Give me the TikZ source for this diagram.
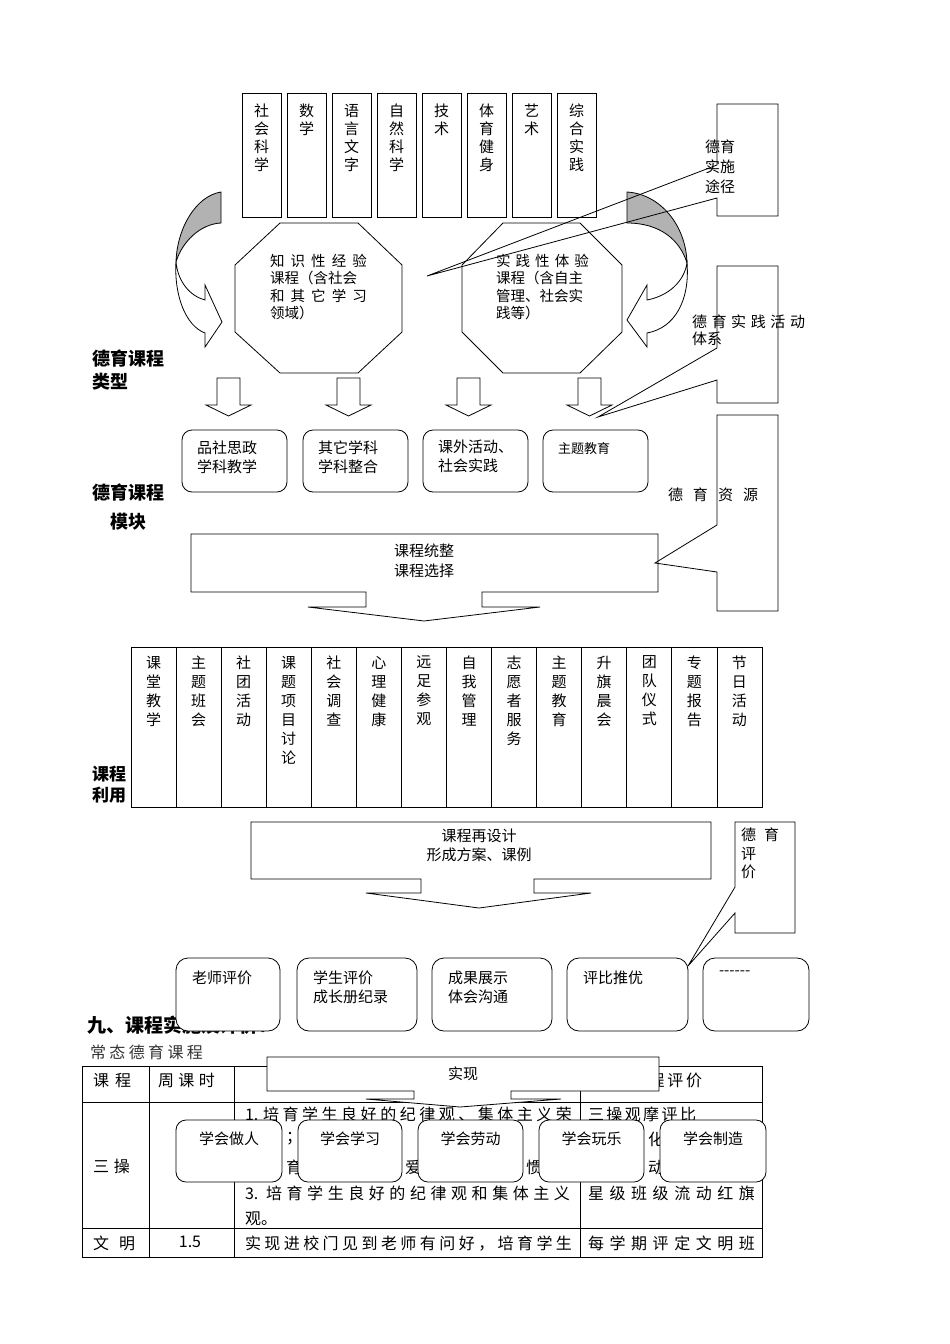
\documentclass[tikz,border=0pt]{standalone}
\usepackage{fontspec}
\setmainfont{Noto Sans CJK SC}
\usetikzlibrary{positioning}
\newcommand\fs[2]{\fontsize{#1}{#2}\selectfont}
\newcommand\spr[2]{\makebox[#1][s]{#2}}

\begin{document}
\begin{tikzpicture}[x=1pt, y=-1pt, line width=0.8pt,
    lbl/.style={inner sep=0pt, outer sep=0pt, anchor=north west, align=left, font=\fs{15}{19}},
    vlbl/.style={inner sep=0pt, outer sep=0pt, anchor=north, align=center, font=\fs{15}{18}},
    blbl/.style={lbl, font=\fs{18}{23}\bfseries},
    colbox/.style={draw, inner sep=0pt, outer sep=0pt, anchor=north west, minimum width=39pt, minimum height=124pt},
    ubox/.style={draw, inner sep=0pt, outer sep=0pt, anchor=north west, minimum width=45.07pt, minimum height=160pt},
    rbox/.style={draw, fill=white, rounded corners=10pt, inner sep=0pt, outer sep=0pt, minimum height=62pt},
    ebox/.style={rbox, rounded corners=12pt, minimum height=73pt},
    backface/.style={draw, fill=gray!60},
    blk/.style={draw, fill=white},
    tb/.style={lbl, font=\fs{16}{20}},
  ]
  \fill[white] (0,0) rectangle (950,1344);
  \useasboundingbox (0,0) rectangle (950,1344);

  % subject columns
  \foreach \lab [count=\i] in {{社\\会\\科\\学},{数\\学},{语\\言\\文\\字},{自\\然\\科\\学},{技\\术},{体\\育\\健\\身},{艺\\术},{综\\合\\实\\践}}{
    \node[colbox] (top\i) at ({242+45*(\i-1)},93) {};
    \node[vlbl] (topt\i) at ([yshift=-11pt]top\i.north) {\lab};
  }

  % curved arrows
  \draw[backface] (221,192) .. controls (196,196) and (177,228) .. (176,262) .. controls (182,242) and (200,224) .. (221,223) -- cycle;
  \draw[blk] (176,262) .. controls (174,296) and (186,326) .. (205,333) -- (205,347) -- (222,322) -- (205,285) -- (205,300) .. controls (190,296) and (178,282) .. (176,262) -- cycle;
  \draw[backface] (627,192) .. controls (660,194) and (686,225) .. (687,263) .. controls (680,240) and (660,223) .. (627,223) -- cycle;
  \draw[blk] (687,263) .. controls (690,300) and (675,328) .. (647,333) -- (647,347) -- (627,320) -- (647,285) -- (647,300) .. controls (668,296) and (684,282) .. (687,263) -- cycle;

  % course types
  \draw (280,223) -- (358,223) -- (402,265) -- (402,332) -- (358,373) -- (280,373) -- (235,332) -- (235,265) -- cycle;
  \draw (503,223) -- (580,223) -- (622,265) -- (622,332) -- (580,373) -- (503,373) -- (462,332) -- (462,265) -- cycle;
  \node[lbl, font=\fs{14.5}{17.5}] (know) at (270,254) {\spr{97pt}{知 识 性 经 验}\\课程（含社会\\\spr{97pt}{和 其 它 学 习}\\领域）};
  \node[lbl, font=\fs{14.5}{17.5}] (prac) at (496,254) {\spr{93pt}{实 践 性 体 验}\\课程（含自主\\管理、社会实\\践等）};

  % callouts on the right
  \draw (717,104) -- (778,104) -- (778,216) -- (717,216) -- (717,198) -- (427,276) -- (717,165) -- cycle;
  \node[lbl, font=\fs{15}{20}] (way) at (705,140) {德育\\实施\\途径};
  \draw (717,266) -- (778,266) -- (778,403) -- (717,403) -- (717,380) -- (598,417) -- (717,348) -- cycle;
  \node[lbl, font=\fs{15}{17}] (act) at (692,315) {\spr{113pt}{德 育 实 践 活 动}\\体系};

  \foreach \cx in {228.5,348.5,468.5,589.5}
    \draw (\cx-11.5,378) -- (\cx+11.5,378) -- (\cx+11.5,405) -- (\cx+22.5,405) -- (\cx,416) -- (\cx-22.5,405) -- (\cx-11.5,405) -- cycle;

  % modules
  \node[rbox, minimum width=105pt, anchor=north west] (m1) at (182,430) {};
  \node[rbox, minimum width=105pt, right=16pt of m1] (m2) {};
  \node[rbox, minimum width=105pt, right=15pt of m2] (m3) {};
  \node[rbox, minimum width=105pt, right=15pt of m3] (m4) {};
  \node[lbl] (m1t) at ([xshift=15pt,yshift=-11pt]m1.north west) {品社思政\\学科教学};
  \node[lbl] (m2t) at ([xshift=15pt,yshift=-11pt]m2.north west) {其它学科\\学科整合};
  \node[lbl] (m3t) at ([xshift=15pt,yshift=-10pt]m3.north west) {课外活动、\\社会实践};
  \node[lbl, font=\fs{13}{16}] (m4t) at ([xshift=15pt,yshift=-12pt]m4.north west) {主题教育};

  \node[blbl] (ktype) at (92,350) {德育课程\\类型};
  \node[blbl, align=center, font=\fs{18}{29}\bfseries] (kmod) at (92,484) {德育课程\\模块};

  \draw[blk] (191,534) -- (658,534) -- (658,592) -- (482,592) -- (482,607) -- (540,607) -- (424,621) -- (308,607) -- (366,607) -- (366,592) -- (191,592) -- cycle;
  \node[lbl, anchor=north, align=center, font=\fs{15}{20}] (sel) at (424,544) {课程统整\\课程选择};

  \draw (717,415) -- (778,415) -- (778,611) -- (717,611) -- (717,572) -- (655,563) -- (717,525) -- cycle;
  \node[lbl] (res) at (668,488) {\spr{90pt}{德 育 资 源}};

  % course use
  \foreach \lab [count=\i] in {{课\\堂\\教\\学},{主\\题\\班\\会},{社\\团\\活\\动},{课\\题\\项\\目\\讨\\论},{社\\会\\调\\查},{心\\理\\健\\康},{远\\足\\参\\观},{自\\我\\管\\理},{志\\愿\\者\\服\\务},{主\\题\\教\\育},{升\\旗\\晨\\会},{团\\队\\仪\\式},{专\\题\\报\\告},{节\\日\\活\\动}}{
    \node[ubox] (u\i) at ({131+45.07*(\i-1)},647) {};
    \node[vlbl, font=\fs{15}{19}] (ut\i) at ([yshift=-9pt]u\i.north) {\lab};
  }
  \node[blbl, font=\fs{17}{21}\bfseries] (use) at (92,766) {课程\\利用};

  \draw[blk] (251,822) -- (711,822) -- (711,879) -- (534,879) -- (534,893) -- (591,893) -- (479,908) -- (366,893) -- (421,893) -- (421,879) -- (251,879) -- cycle;
  \node[lbl, anchor=north, align=center] (redo) at (479,829) {课程再设计\\形成方案、课例};

  \draw (735,822) -- (795,822) -- (795,933) -- (735,933) -- (735,913) -- (688,966) -- (735,887) -- cycle;
  \node[lbl, font=\fs{15}{18.5}] (eva) at (741,828) {\spr{38pt}{德 育}\\评\\价};

  % section text and table
  \node[lbl, font=\fs{19}{23}\bfseries] (sec) at (87,1016) {九、课程实施及评价：};
  \node[lbl, font=\fs{16}{20}, text=black!80] (sub) at (90,1045) {\spr{113pt}{常 态 德 育 课 程}};
  \draw (82,1066) rectangle (762,1257);
  \foreach \x in {149,234,580} \draw (\x,1066) -- (\x,1257);
  \foreach \y in {1102,1228} \draw (82,\y) -- (762,\y);
  \node[tb] (h1) at (93,1073) {\spr{38pt}{课 程}};
  \node[tb] (h2) at (158,1073) {\spr{57pt}{周 课 时}};
  \node[tb] (h4) at (630,1073) {\spr{72pt}{课 程 评 价}};
  \node[tb] (r1) at (93,1159) {\spr{37pt}{三 操}};
  \node[tb] (r1a) at (245,1107) {\spr{327pt}{1. 培 育 学 生 良 好 的 纪 律 观 、 集 体 主 义 荣}};
  \node[tb] (r1b) at (286,1132) {；};
  \node[tb] (r1c) at (286,1160) {育};
  \node[tb] (r1d) at (405,1160) {爱};
  \node[tb] (r1e) at (526,1160) {惯；};
  \node[tb] (r1f) at (245,1186) {\spr{325pt}{3. 培 育 学 生 良 好 的 纪 律 观 和 集 体 主 义}};
  \node[tb] (r1g) at (245,1212) {观。};
  \node[tb] (r1h) at (588,1107) {\spr{108pt}{三 操 观 摩 评 比}};
  \node[tb] (r1i) at (648,1132) {化};
  \node[tb] (r1j) at (648,1160) {动};
  \node[tb] (r1k) at (588,1186) {\spr{167pt}{星 级 班 级 流 动 红 旗}};
  \node[tb] (r2) at (93,1236) {\spr{42pt}{文 明}};
  \node[tb, anchor=north] (r2a) at (190,1236) {1.5};
  \node[tb] (r2b) at (245,1236) {\spr{327pt}{实 现 进 校 门 见 到 老 师 有 问 好 ， 培 育 学 生}};
  \node[tb] (r2c) at (588,1236) {\spr{167pt}{每 学 期 评 定 文 明 班}};

  % evaluation
  \node[ebox, minimum width=104pt, anchor=north west] (e1) at (176,958) {};
  \node[ebox, minimum width=120pt, right=17pt of e1] (e2) {};
  \node[ebox, minimum width=120pt, right=15pt of e2] (e3) {};
  \node[ebox, minimum width=121pt, right=15pt of e3] (e4) {};
  \node[ebox, minimum width=106pt, right=15pt of e4] (e5) {};
  \node[lbl] (e1t) at ([xshift=16pt,yshift=-13pt]e1.north west) {老师评价};
  \node[lbl] (e2t) at ([xshift=16pt,yshift=-13pt]e2.north west) {学生评价\\成长册纪录};
  \node[lbl] (e3t) at ([xshift=16pt,yshift=-13pt]e3.north west) {成果展示\\体会沟通};
  \node[lbl] (e4t) at ([xshift=16pt,yshift=-13pt]e4.north west) {评比推优};
  \node[lbl] (e5t) at ([xshift=16pt,yshift=-13pt]e5.north west) {-{}-{}-{}-{}-{}-};

  \draw[blk] (267,1057) -- (659,1057) -- (659,1091) -- (511,1091) -- (511,1099) -- (561,1099) -- (460,1107) -- (366,1099) -- (414,1099) -- (414,1091) -- (267,1091) -- cycle;
  \node[lbl, anchor=north] (real) at (463,1067) {实现};

  \node[rbox, minimum width=106pt, anchor=north west] (l1) at (176,1120) {};
  \node[rbox, minimum width=104pt, right=16pt of l1] (l2) {};
  \node[rbox, minimum width=105pt, right=16pt of l2] (l3) {};
  \node[rbox, minimum width=105pt, right=16pt of l3] (l4) {};
  \node[rbox, minimum width=106pt, right=16pt of l4] (l5) {};
  \node[lbl, anchor=north] (l1t) at ([yshift=-12pt]l1.north) {学会做人};
  \node[lbl, anchor=north] (l2t) at ([yshift=-12pt]l2.north) {学会学习};
  \node[lbl, anchor=north] (l3t) at ([yshift=-12pt]l3.north) {学会劳动};
  \node[lbl, anchor=north] (l4t) at ([yshift=-12pt]l4.north) {学会玩乐};
  \node[lbl, anchor=north] (l5t) at ([yshift=-12pt]l5.north) {学会制造};
\end{tikzpicture}
\end{document}
